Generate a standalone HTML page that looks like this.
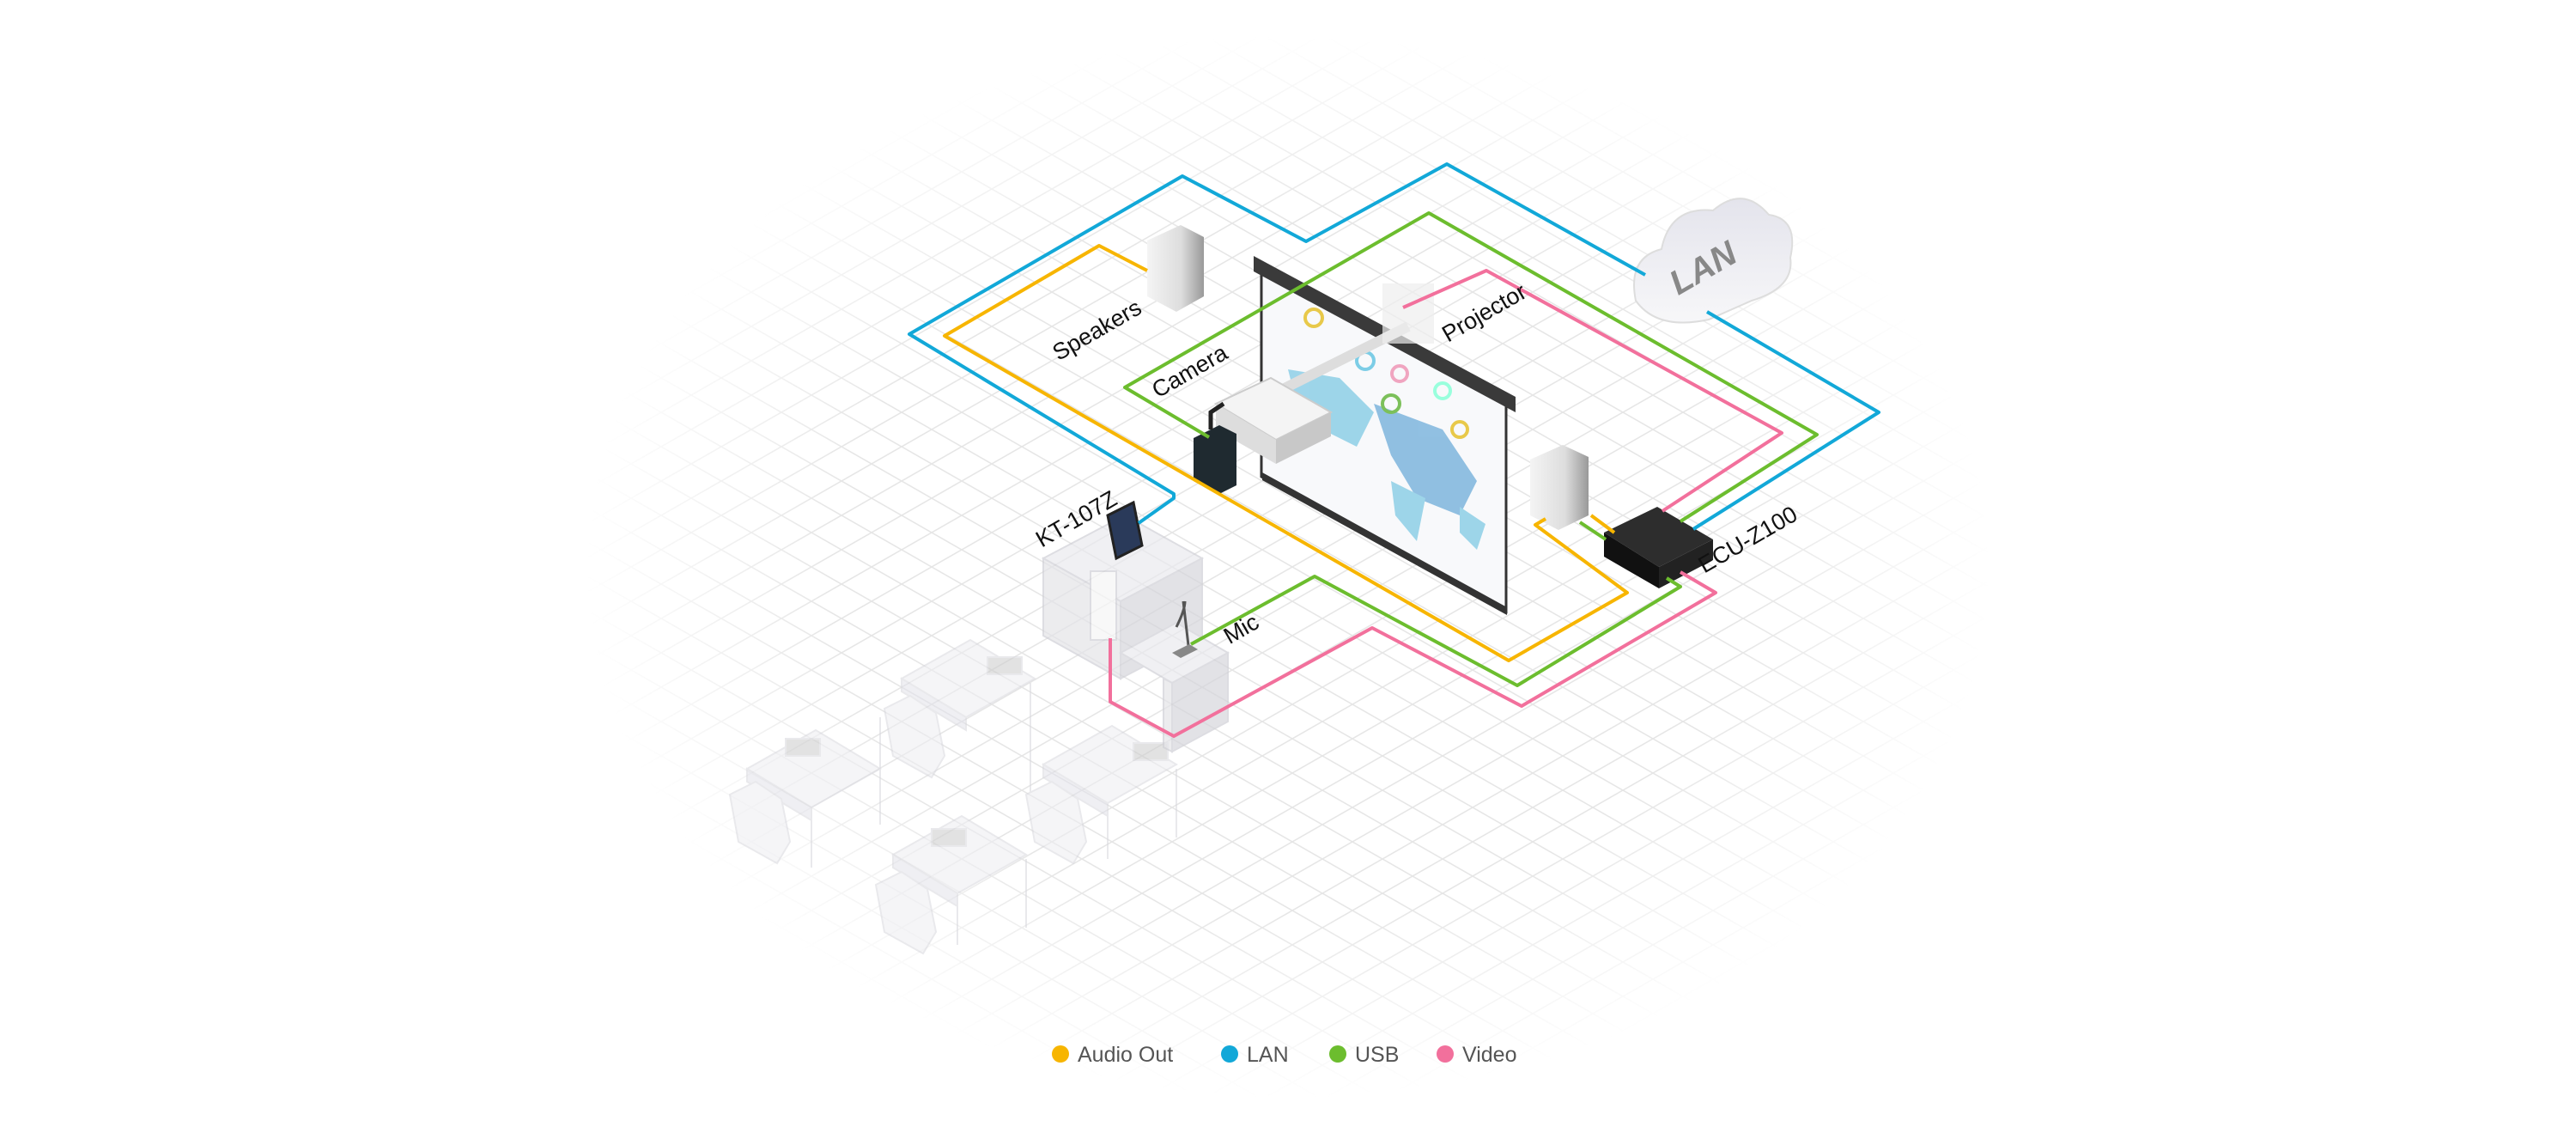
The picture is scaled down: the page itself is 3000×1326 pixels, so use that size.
<!DOCTYPE html>
<html><head><meta charset="utf-8"><style>
html,body{margin:0;padding:0;background:#fff}
svg{display:block}
.lb{font-family:"Liberation Sans",sans-serif;font-size:27px;fill:#111}
.lg{font-family:"Liberation Sans",sans-serif;font-size:25px;fill:#555}
</style></head><body>
<svg width="3000" height="1326" viewBox="0 0 3000 1326" xmlns="http://www.w3.org/2000/svg">
<defs>
<pattern id="grid" width="70" height="40" patternUnits="userSpaceOnUse">
<path d="M0 0 L70 40 M0 40 L70 0" stroke="#e6e6e6" stroke-width="1.6" fill="none"/>
</pattern>
<radialGradient id="fade" cx="0.5" cy="0.5" r="0.5">
<stop offset="0.65" stop-color="#fff"/><stop offset="1" stop-color="#000"/>
</radialGradient>
<mask id="m"><rect x="680" y="40" width="1640" height="1240" fill="url(#fade)"/></mask>
<linearGradient id="spk" x1="0" x2="1"><stop offset="0" stop-color="#f4f4f4"/><stop offset="0.6" stop-color="#ddd"/><stop offset="1" stop-color="#999"/></linearGradient>
<linearGradient id="cl" x1="0" y1="0" x2="0" y2="1"><stop offset="0" stop-color="#e4e4ec"/><stop offset="1" stop-color="#f7f7f9"/></linearGradient>
</defs>
<rect width="3000" height="1326" fill="#fff"/>
<rect x="680" y="40" width="1640" height="1240" fill="url(#grid)" mask="url(#m)"/>

<!-- student desks -->
<g opacity="0.55" fill="#eeeef2" stroke="#d8d8de" stroke-width="2">
<path d="M1050 790 L1130 745 L1205 790 L1125 835 Z"/><path d="M1050 790 L1125 835 L1125 850 L1050 805 Z" fill="#e2e2ea"/>
<path d="M870 895 L950 850 L1025 895 L945 940 Z"/><path d="M870 895 L945 940 L945 955 L870 910 Z" fill="#e2e2ea"/>
<path d="M1215 890 L1295 845 L1370 890 L1290 935 Z"/><path d="M1215 890 L1290 935 L1290 950 L1215 905 Z" fill="#e2e2ea"/>
<path d="M1040 995 L1120 950 L1195 995 L1115 1040 Z"/><path d="M1040 995 L1115 1040 L1115 1055 L1040 1010 Z" fill="#e2e2ea"/>
<path d="M1025 835 V960 M1200 795 V935 M945 955 V1010 M1290 950 V1000 M1370 895 V975 M1115 1055 V1100 M1195 1000 V1080" fill="none"/>
<path d="M1030 825 L1060 810 L1090 830 L1100 880 L1085 905 L1040 880 Z"/>
<path d="M850 925 L880 910 L910 930 L920 980 L905 1005 L860 980 Z"/>
<path d="M1195 925 L1225 910 L1255 930 L1265 980 L1250 1005 L1205 980 Z"/>
<path d="M1020 1030 L1050 1015 L1080 1035 L1090 1085 L1075 1110 L1030 1085 Z"/>
<rect x="1150" y="765" width="40" height="20" fill="#ccc"/><rect x="915" y="860" width="40" height="20" fill="#ccc"/>
<rect x="1320" y="865" width="40" height="20" fill="#ccc"/><rect x="1085" y="965" width="40" height="20" fill="#ccc"/>
</g>

<!-- teacher desk -->
<g opacity="0.7" fill="#e4e4e8" stroke="#d0d0d6" stroke-width="2">
<path d="M1215 650 L1310 600 L1400 650 L1305 700 Z" fill="#eaeaee"/>
<path d="M1215 650 L1305 700 L1305 790 L1215 740 Z"/>
<path d="M1305 700 L1400 650 L1400 740 L1305 790 Z" fill="#d6d6dc"/>
<path d="M1305 760 L1370 725 L1430 760 L1365 795 Z" fill="#eaeaee"/>
<path d="M1365 795 L1430 760 L1430 840 L1365 875 Z" fill="#d6d6dc"/>
<path d="M1365 795 L1365 875 L1355 870 L1355 790 Z"/>
<rect x="1270" y="665" width="30" height="80" fill="#f6f6f6"/>
</g>
<path d="M1370 730 Q1380 710 1380 700 M1378 700 L1385 760" stroke="#555" stroke-width="3" fill="none"/>
<path d="M1365 760 L1385 750 L1395 756 L1375 766 Z" fill="#888"/>
<path d="M1290 600 L1320 585 L1330 635 L1300 650 Z" fill="#2a3a5a" stroke="#222" stroke-width="3"/>

<!-- screen -->
<path d="M1469 312 L1754 469 L1754 712 L1469 555 Z" fill="#f8f9fb" stroke="#333" stroke-width="3"/>
<path d="M1460 298 L1765 462 L1765 480 L1460 316 Z" fill="#3a3a3a"/>
<path d="M1470 550 L1755 707 L1755 716 L1470 559 Z" fill="#333"/>
<g fill="#8ecfe6" opacity="0.85">
<path d="M1500 430 L1560 440 L1600 480 L1580 520 L1540 500 L1510 470 Z"/>
<path d="M1600 470 L1680 500 L1720 560 L1700 600 L1650 580 L1620 530 Z" fill="#7fb6dd"/>
<path d="M1620 560 L1660 580 L1650 630 L1625 600 Z"/>
<path d="M1700 590 L1730 610 L1720 640 L1700 620 Z"/>
</g>
<g fill="none" stroke-width="4">
<circle cx="1530" cy="370" r="10" stroke="#e8c94a"/><circle cx="1590" cy="420" r="10" stroke="#7ccde6"/>
<circle cx="1630" cy="435" r="9" stroke="#f0a5c0"/><circle cx="1620" cy="470" r="10" stroke="#7cc05a"/>
<circle cx="1680" cy="455" r="9" stroke="#9fd"/><circle cx="1700" cy="500" r="9" stroke="#e8c94a"/>
</g>
<path d="M1460 470 L1640 380" stroke="#ddd" stroke-width="12"/>
<rect x="1610" y="330" width="60" height="70" fill="#eee" opacity="0.7"/>
<path d="M1416 470 L1480 440 L1550 480 L1486 512 Z" fill="#f4f4f4" stroke="#ccc" stroke-width="2"/>
<path d="M1416 470 L1486 512 L1486 540 L1416 500 Z" fill="#ddd"/>
<path d="M1486 512 L1550 480 L1550 508 L1486 540 Z" fill="#c8c8c8"/>
<path d="M1390 510 L1420 495 L1440 505 L1440 565 L1420 575 L1390 560 Z" fill="#1f2a30"/>
<path d="M1410 500 L1410 480 L1425 470" stroke="#222" stroke-width="5" fill="none"/>

<!-- speakers -->
<path d="M1336 280 L1375 262 L1402 276 L1402 345 L1370 363 L1336 345 Z" fill="url(#spk)"/>
<path d="M1782 535 L1820 518 L1850 532 L1850 600 L1815 617 L1782 600 Z" fill="url(#spk)"/>

<!-- ECU -->
<path d="M1868 620 L1930 590 L1995 628 L1932 660 Z" fill="#2d2d2d"/>
<path d="M1868 620 L1932 660 L1932 685 L1868 648 Z" fill="#111"/>
<path d="M1932 660 L1995 628 L1995 652 L1932 685 Z" fill="#222"/>

<!-- cloud -->
<path d="M1905 350 Q1895 300 1935 290 Q1945 240 1995 245 Q2030 215 2060 250 Q2095 255 2085 300 Q2090 335 2040 350 L1990 372 Q1930 385 1905 350 Z" fill="url(#cl)" stroke="#ddd" stroke-width="2"/>
<text x="1985" y="325" font-family="Liberation Sans,sans-serif" font-size="40" font-style="italic" font-weight="bold" fill="#888" transform="rotate(-30 1985 315)" text-anchor="middle">LAN</text>

<!-- cables -->
<g fill="none" stroke-width="4" stroke-linejoin="round">
<polyline stroke="#12a8d8" points="1326,609 1367,580 1367,575 1059,389 1377,205 1521,281 1685,191 1916,320"/>
<polyline stroke="#12a8d8" points="1988,363 2188,480 1972,616"/>
<polyline stroke="#f7b500" points="1336,315 1280,286 1100,391 1757,769 1895,690 1788,611 1800,604"/>
<polyline stroke="#f7b500" points="1853,600 1880,620"/>
<polyline stroke="#6cbd2e" points="1387,750 1531,671 1767,798 1957,683 1941,673"/>
<polyline stroke="#6cbd2e" points="1408,509 1310,451 1664,248 2116,506 1957,607"/>
<polyline stroke="#6cbd2e" points="1840,608 1870,628"/>
<polyline stroke="#f2709c" points="1293,743 1293,817 1367,857 1598,731 1772,822 1998,690 1957,666"/>
<polyline stroke="#f2709c" points="1634,358 1731,315 2075,504 1936,595"/>
</g>

<!-- labels -->
<text class="lb" transform="translate(1282,392) rotate(-30)" text-anchor="middle">Speakers</text>
<text class="lb" transform="translate(1390,440) rotate(-30)" text-anchor="middle">Camera</text>
<text class="lb" transform="translate(1733,372) rotate(-30)" text-anchor="middle">Projector</text>
<text class="lb" transform="translate(1258,612) rotate(-30)" text-anchor="middle">KT-107Z</text>
<text class="lb" transform="translate(1450,740) rotate(-30)" text-anchor="middle">Mic</text>
<text class="lb" transform="translate(2040,636) rotate(-30)" text-anchor="middle">ECU-Z100</text>

<!-- legend -->
<circle cx="1235" cy="1227" r="10" fill="#f7b500"/><text class="lg" x="1255" y="1236">Audio Out</text>
<circle cx="1432" cy="1227" r="10" fill="#12a8d8"/><text class="lg" x="1452" y="1236">LAN</text>
<circle cx="1558" cy="1227" r="10" fill="#6cbd2e"/><text class="lg" x="1578" y="1236">USB</text>
<circle cx="1683" cy="1227" r="10" fill="#f2709c"/><text class="lg" x="1703" y="1236">Video</text>
</svg>
</body></html>
